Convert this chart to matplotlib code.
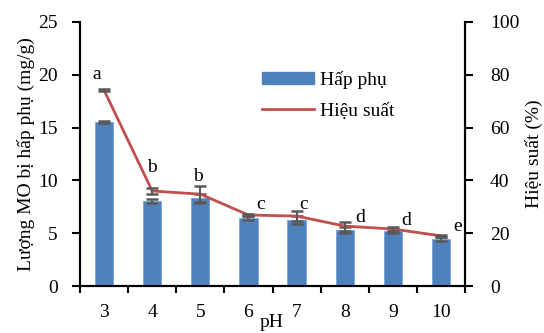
import numpy as np
import matplotlib.pyplot as plt
from matplotlib.patches import Patch
from matplotlib.lines import Line2D

plt.rcParams['font.family'] = ['Liberation Serif', 'DejaVu Serif']

# data
ph = ["3", "4", "5", "6", "7", "8", "9", "10"]
adsorbed = [15.5, 8.05, 8.3, 6.45, 6.25, 5.3, 5.2, 4.45]
adsorbed_err = [0.1, 0.2, 0.4, 0.15, 0.4, 0.3, 0.2, 0.15]
efficiency = [74.2, 36.0, 34.8, 26.9, 26.5, 22.7, 21.6, 19.0]
efficiency_err = [0.4, 1.1, 3.0, 0.5, 2.0, 1.7, 0.8, 0.5]
letters = ["a", "b", "b", "c", "c", "d", "d", "e"]
letter_dx = [-0.15, 0.0, -0.05, 0.25, 0.15, 0.33, 0.27, 0.35]
letter_y = [80, 45, 41.3, 30.7, 31, 26, 25, 22.7]

blue = "#4f81bd"
red = "#c0504d"
errc = "#595959"

fig = plt.figure(figsize=(5.44, 3.33), dpi=100)
ax = fig.add_axes([0.147, 0.141, 0.708, 0.793])
ax2 = ax.twinx()

x = np.arange(len(ph))
ax.bar(x, adsorbed, width=0.38, color=blue, edgecolor="#7da3d3", linewidth=0.6, zorder=2)
ax.errorbar(x, adsorbed, yerr=adsorbed_err, fmt="none", ecolor=errc,
            elinewidth=1.5, capsize=4, capthick=1.8, zorder=3)

ax2.plot(x, efficiency, color=red, linewidth=2, zorder=3)
ax2.errorbar(x, efficiency, yerr=efficiency_err, fmt="none", ecolor=errc,
             elinewidth=1.5, capsize=4, capthick=1.8, zorder=4)

for i, (t, dx, yy) in enumerate(zip(letters, letter_dx, letter_y)):
    ax2.text(i + dx, yy, t, ha="center", va="center", fontsize=14)

ax.set_xlim(-0.5, len(ph) - 0.5)
ax.set_ylim(0, 25)
ax2.set_ylim(0, 100)
ax.set_yticks(np.arange(0, 26, 5))
ax2.set_yticks(np.arange(0, 101, 20))

ax.set_xticks(x)
ax.set_xticklabels(ph)
ax.set_xticks(np.arange(-0.5, len(ph), 1), minor=True)
ax.tick_params(axis="x", which="major", length=0, pad=13, labelsize=14)
ax.tick_params(axis="x", which="minor", length=5, width=1.5, direction="out")
ax.tick_params(axis="y", length=6, width=1.5, direction="out", pad=10, labelsize=14)
ax2.tick_params(axis="y", length=6, width=1.5, direction="out", pad=12, labelsize=14)

for a in (ax, ax2):
    a.spines["top"].set_visible(False)
    for s in ("left", "right", "bottom"):
        a.spines[s].set_linewidth(1.5)

ax.set_ylabel("Lượng MO bị hấp phụ (mg/g)", fontsize=14, labelpad=2)
ax2.set_ylabel("Hiệu suất (%)", fontsize=14, labelpad=4)
fig.text(0.5, 0.032, "pH", ha="center", va="center", fontsize=14)

handles = [Patch(facecolor=blue, edgecolor=blue),
           Line2D([0], [0], color=red, linewidth=2)]
ax.legend(handles, ["Hấp phụ", "Hiệu suất"], loc="upper left",
          bbox_to_anchor=(0.426, 0.88), frameon=False, fontsize=14,
          handlelength=2.7, handleheight=0.55, handletextpad=0.3, labelspacing=0.7)

fig.savefig("out.png", dpi=100)
